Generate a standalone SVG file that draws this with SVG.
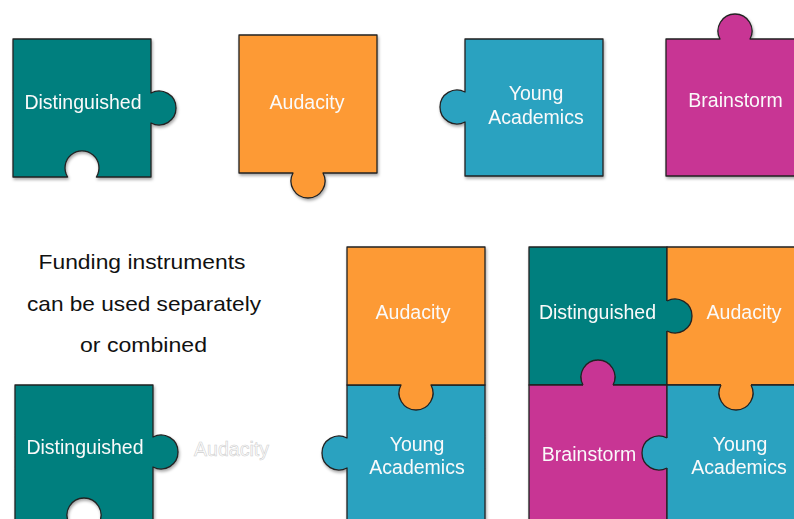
<svg xmlns="http://www.w3.org/2000/svg" width="794" height="519" viewBox="0 0 794 519">
<defs>
<filter id="sh" x="-10%" y="-10%" width="125%" height="125%">
<feDropShadow dx="1" dy="2" stdDeviation="1.5" flood-color="#000" flood-opacity="0.35"/>
</filter>
<style>
.pc{stroke:#222;stroke-width:1.3;stroke-linejoin:round}
.ln{fill:none;stroke:#222;stroke-width:1.3}
.teal{fill:#037F7E}
.orange{fill:#FD9A36}
.blue{fill:#2CA2C0}
.mag{fill:#C83494}
.lbl{font-family:"Liberation Sans",Arial,Helvetica,sans-serif;font-size:19.5px;fill:#fafafa;text-anchor:middle}
.cap{font-family:"Liberation Sans",Arial,Helvetica,sans-serif;font-size:21px;fill:#111;text-anchor:middle}
.ghost{font-family:"Liberation Sans",Arial,Helvetica,sans-serif;font-size:19.5px;fill:#fff;stroke:#cfcfcf;stroke-width:0.6;text-anchor:middle}
</style>
</defs>
<rect width="794" height="519" fill="#fff"/>

<g id="top-distinguished" filter="url(#sh)">
<path class="pc teal" d="M13,39 H151 V93 A17,17 0 1 1 151,123 V177 H96.4 A17,17 0 1 0 67.6,177 H13 Z"/>
<text class="lbl" x="83" y="109">Distinguished</text>
</g>
<g id="top-audacity" filter="url(#sh)">
<path class="pc orange" d="M239,35 H377 V173 H323 A17,17 0 1 1 293,173 H239 Z"/>
<text class="lbl" x="307" y="109">Audacity</text>
</g>
<g id="top-young" filter="url(#sh)">
<path class="pc blue" d="M465,39 H603 V176 H465 V122 A17,17 0 1 1 465,92 Z"/>
<text class="lbl" x="536" y="100">Young</text>
<text class="lbl" x="536" y="124">Academics</text>
</g>
<g id="top-brainstorm" filter="url(#sh)">
<path class="pc mag" d="M666,39 H720 A17,17 0 1 1 750,39 H812 V176 H666 Z"/>
<text class="lbl" x="735.5" y="107">Brainstorm</text>
</g>

<g id="caption">
<text class="cap" x="142" y="269" textLength="207" lengthAdjust="spacingAndGlyphs">Funding instruments</text>
<text class="cap" x="144" y="311" textLength="234" lengthAdjust="spacingAndGlyphs">can be used separately</text>
<text class="cap" x="143.5" y="352" textLength="127" lengthAdjust="spacingAndGlyphs">or combined</text>
</g>

<g id="bottom-distinguished" filter="url(#sh)">
<path class="pc teal" d="M15,385 H153 V437 A17,17 0 1 1 153,467 V523 H99 A17,17 0 1 0 69,523 H15 Z"/>
<text class="lbl" x="85" y="454">Distinguished</text>
</g>
<g id="ghost-audacity">
<text class="ghost" x="231.5" y="456">Audacity</text>
</g>

<g id="pair" filter="url(#sh)">
<g id="pair-young">
<path class="pc blue" d="M347,385 H485 V540 H347 V468 A17,17 0 1 1 347,438 Z"/>
<text class="lbl" x="417" y="451">Young</text>
<text class="lbl" x="417" y="474">Academics</text>
</g>
<g id="pair-audacity">
<path class="pc orange" d="M347,247 H485 V385 H431 A17,17 0 1 1 401,385 H347 Z"/>
<text class="lbl" x="413" y="319">Audacity</text>
</g>
</g>

<g id="combined" filter="url(#sh)">
<g id="comb-squares">
<rect class="pc teal" x="529" y="247" width="138" height="138"/>
<rect class="pc orange" x="667" y="247" width="150" height="138"/>
<rect class="pc mag" x="529" y="385" width="138" height="160"/>
<rect class="pc blue" x="667" y="385" width="150" height="160"/>
</g>
<g id="comb-tabs">
<path class="teal" d="M664,301 H667 A17,17 0 1 1 667,331 H664 Z"/>
<path class="ln" d="M667,301 A17,17 0 1 1 667,331"/>
<path class="orange" d="M751,382 V385 A17,17 0 1 1 721,385 V382 Z"/>
<path class="ln" d="M751,385 A17,17 0 1 1 721,385"/>
<path class="mag" d="M583,388 V385 A17,17 0 1 1 613,385 V388 Z"/>
<path class="ln" d="M583,385 A17,17 0 1 1 613,385"/>
<path class="blue" d="M670,468 H667 A17,17 0 1 1 667,438 H670 Z"/>
<path class="ln" d="M667,468 A17,17 0 1 1 667,438"/>
</g>
<g id="comb-labels">
<text class="lbl" x="597.5" y="319">Distinguished</text>
<text class="lbl" x="744" y="319">Audacity</text>
<text class="lbl" x="589" y="461">Brainstorm</text>
<text class="lbl" x="740" y="451">Young</text>
<text class="lbl" x="739" y="474">Academics</text>
</g>
</g>
</svg>
